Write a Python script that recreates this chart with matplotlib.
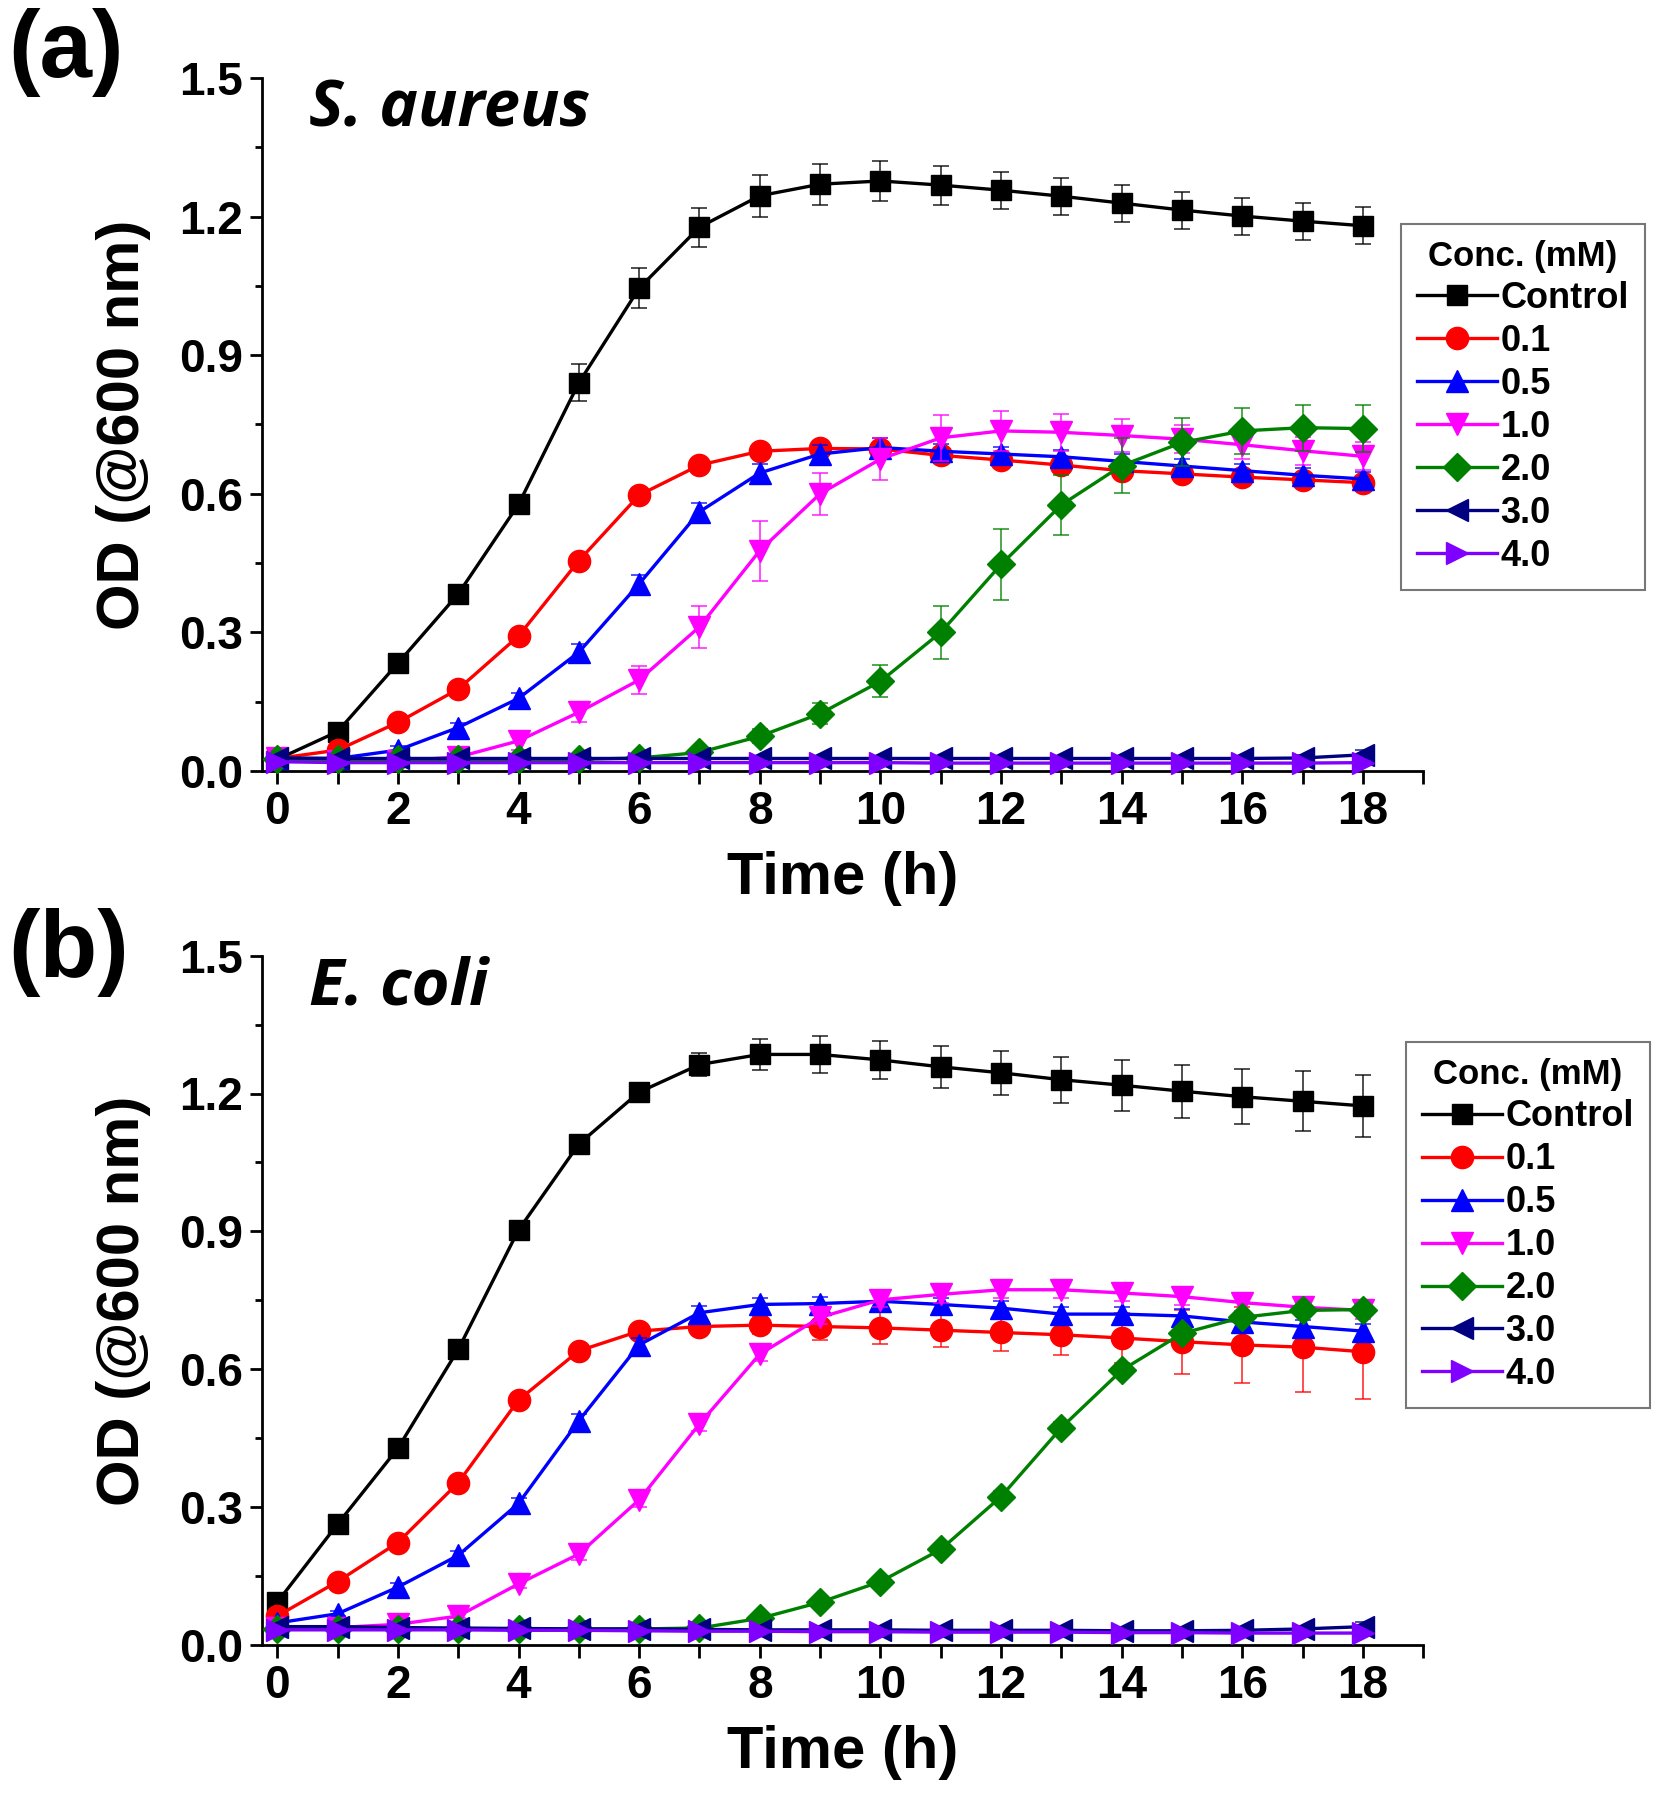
import matplotlib
matplotlib.use('Agg')
import matplotlib.pyplot as plt
from matplotlib.ticker import MultipleLocator

plt.rcParams['font.family'] = ['Liberation Sans', 'DejaVu Sans']
plt.rcParams['font.weight'] = 'bold'

hours = list(range(19))
labels = ['Control', '0.1', '0.5', '1.0', '2.0', '3.0', '4.0']

# --- (a) S. aureus ---
ctrl_a = [0.025, 0.085, 0.233, 0.383, 0.577, 0.840, 1.045, 1.177, 1.245, 1.270,
          1.277, 1.268, 1.257, 1.244, 1.229, 1.214, 1.201, 1.190, 1.180]
c01_a = [0.027, 0.045, 0.105, 0.177, 0.292, 0.455, 0.597, 0.662, 0.692, 0.698,
         0.697, 0.683, 0.673, 0.662, 0.650, 0.643, 0.636, 0.630, 0.624]
c05_a = [0.027, 0.027, 0.045, 0.094, 0.157, 0.257, 0.405, 0.561, 0.645, 0.686,
         0.700, 0.692, 0.686, 0.680, 0.670, 0.660, 0.650, 0.640, 0.632]
c10_a = [0.027, 0.022, 0.022, 0.030, 0.065, 0.127, 0.197, 0.312, 0.477, 0.600,
         0.675, 0.721, 0.736, 0.733, 0.726, 0.718, 0.706, 0.693, 0.681]
c20_a = [0.025, 0.025, 0.025, 0.025, 0.025, 0.025, 0.028, 0.040, 0.075, 0.124,
         0.194, 0.300, 0.447, 0.576, 0.661, 0.711, 0.736, 0.743, 0.741]
c30_a = [0.028, 0.027, 0.027, 0.027, 0.027, 0.027, 0.027, 0.027, 0.027, 0.027,
         0.027, 0.027, 0.027, 0.027, 0.027, 0.027, 0.027, 0.028, 0.035]
c40_a = [0.020, 0.018, 0.018, 0.018, 0.018, 0.018, 0.018, 0.018, 0.018, 0.018,
         0.018, 0.017, 0.017, 0.017, 0.017, 0.017, 0.017, 0.017, 0.018]

err_ctrl_a = [0.005, 0.008, 0.010, 0.010, 0.012, 0.040, 0.043, 0.042, 0.045, 0.044,
              0.044, 0.042, 0.040, 0.040, 0.040, 0.040, 0.040, 0.040, 0.040]
err_c01_a = [0.005, 0.005, 0.006, 0.008, 0.008, 0.010, 0.010, 0.010, 0.010, 0.010,
             0.010, 0.010, 0.010, 0.010, 0.010, 0.010, 0.010, 0.010, 0.010]
err_c05_a = [0.005, 0.005, 0.008, 0.010, 0.012, 0.018, 0.020, 0.020, 0.020, 0.020,
             0.020, 0.015, 0.015, 0.015, 0.015, 0.015, 0.015, 0.015, 0.015]
err_c10_a = [0.005, 0.005, 0.005, 0.008, 0.020, 0.020, 0.030, 0.045, 0.065, 0.045,
             0.045, 0.050, 0.043, 0.040, 0.035, 0.030, 0.030, 0.030, 0.030]
err_c20_a = [0.005, 0.005, 0.005, 0.005, 0.005, 0.005, 0.005, 0.010, 0.015, 0.022,
             0.035, 0.058, 0.077, 0.065, 0.060, 0.052, 0.050, 0.050, 0.050]
err_c30_a = [0.004, 0.004, 0.004, 0.004, 0.004, 0.004, 0.004, 0.004, 0.004, 0.004,
             0.004, 0.004, 0.004, 0.004, 0.004, 0.004, 0.004, 0.006, 0.010]
err_c40_a = [0.003, 0.003, 0.003, 0.003, 0.003, 0.003, 0.003, 0.003, 0.003, 0.003,
             0.003, 0.003, 0.003, 0.003, 0.003, 0.003, 0.003, 0.003, 0.003]

# --- (b) E. coli ---
ctrl_b = [0.093, 0.263, 0.428, 0.643, 0.903, 1.090, 1.203, 1.263, 1.285, 1.285,
          1.273, 1.258, 1.245, 1.230, 1.218, 1.205, 1.193, 1.183, 1.173]
c01_b = [0.063, 0.138, 0.223, 0.353, 0.533, 0.640, 0.683, 0.693, 0.696, 0.693,
         0.690, 0.685, 0.680, 0.675, 0.668, 0.660, 0.653, 0.648, 0.638]
c05_b = [0.048, 0.068, 0.126, 0.195, 0.308, 0.488, 0.653, 0.723, 0.741, 0.743,
         0.748, 0.741, 0.733, 0.720, 0.720, 0.716, 0.703, 0.693, 0.683]
c10_b = [0.038, 0.038, 0.045, 0.063, 0.133, 0.198, 0.316, 0.481, 0.633, 0.713,
         0.751, 0.763, 0.773, 0.773, 0.766, 0.758, 0.745, 0.735, 0.728]
c20_b = [0.035, 0.035, 0.035, 0.035, 0.035, 0.035, 0.035, 0.037, 0.058, 0.093,
         0.138, 0.208, 0.323, 0.473, 0.598, 0.678, 0.713, 0.728, 0.730]
c30_b = [0.040, 0.040, 0.038, 0.037, 0.036, 0.035, 0.035, 0.034, 0.033, 0.033,
         0.033, 0.032, 0.032, 0.032, 0.031, 0.031, 0.032, 0.035, 0.040]
c40_b = [0.033, 0.033, 0.033, 0.033, 0.032, 0.032, 0.031, 0.030, 0.030, 0.029,
         0.029, 0.028, 0.028, 0.028, 0.027, 0.027, 0.026, 0.026, 0.026]

err_ctrl_b = [0.005, 0.005, 0.005, 0.008, 0.008, 0.008, 0.010, 0.025, 0.033, 0.040,
              0.042, 0.045, 0.048, 0.050, 0.055, 0.058, 0.060, 0.065, 0.068]
err_c01_b = [0.005, 0.005, 0.005, 0.008, 0.008, 0.008, 0.010, 0.015, 0.020, 0.030,
             0.035, 0.037, 0.040, 0.045, 0.055, 0.070, 0.083, 0.098, 0.103]
err_c05_b = [0.005, 0.005, 0.008, 0.010, 0.012, 0.015, 0.015, 0.015, 0.015, 0.015,
             0.015, 0.015, 0.015, 0.015, 0.015, 0.015, 0.015, 0.015, 0.015]
err_c10_b = [0.005, 0.005, 0.005, 0.005, 0.010, 0.012, 0.015, 0.015, 0.015, 0.015,
             0.015, 0.018, 0.018, 0.018, 0.018, 0.018, 0.018, 0.018, 0.018]
err_c20_b = [0.004, 0.004, 0.004, 0.004, 0.004, 0.004, 0.004, 0.004, 0.005, 0.006,
             0.008, 0.010, 0.012, 0.012, 0.012, 0.012, 0.012, 0.012, 0.012]
err_c30_b = [0.004, 0.004, 0.004, 0.004, 0.004, 0.004, 0.004, 0.004, 0.004, 0.004,
             0.004, 0.004, 0.004, 0.004, 0.004, 0.004, 0.004, 0.006, 0.010]
err_c40_b = [0.003, 0.003, 0.003, 0.003, 0.003, 0.003, 0.003, 0.003, 0.003, 0.003,
             0.003, 0.003, 0.003, 0.003, 0.003, 0.003, 0.003, 0.003, 0.003]

colors = ['#000000', '#ff0000', '#0000ff', '#ff00ff', '#008000', '#000080', '#8000ff']
markers = ['s', 'o', '^', 'v', 'D', '<', '>']
msizes = [15, 16, 16, 16, 14, 16, 16]

panels = [
    ([0.158, 0.5717, 0.700, 0.385], '(a)', 0.971, 'S. aureus',
     [ctrl_a, c01_a, c05_a, c10_a, c20_a, c30_a, c40_a],
     [err_ctrl_a, err_c01_a, err_c05_a, err_c10_a, err_c20_a, err_c30_a, err_c40_a],
     (0.8445, 0.8756)),
    ([0.158, 0.0861, 0.700, 0.383], '(b)', 0.4706, 'E. coli',
     [ctrl_b, c01_b, c05_b, c10_b, c20_b, c30_b, c40_b],
     [err_ctrl_b, err_c01_b, err_c05_b, err_c10_b, err_c20_b, err_c30_b, err_c40_b],
     (0.8475, 0.421)),
]

fig = plt.figure(figsize=(16.59, 18), dpi=100)

for rect, tag, tag_y, species, series, errs, leg_xy in panels:
    ax = fig.add_axes(rect)
    handles = []
    for i, (y, e) in enumerate(zip(series, errs)):
        ax.errorbar(hours, y, yerr=e, fmt='none', ecolor=colors[i],
                    elinewidth=1.3, capsize=6, capthick=1.3, alpha=0.75, zorder=2 + i)
        h, = ax.plot(hours, y, color=colors[i], lw=2.4, marker=markers[i],
                     ms=msizes[i], mec=colors[i], mfc=colors[i],
                     label=labels[i], zorder=3 + i, clip_on=False)
        handles.append(h)

    ax.set_xlim(-0.25, 19)
    ax.set_ylim(0, 1.5)
    ax.xaxis.set_major_locator(MultipleLocator(2))
    ax.xaxis.set_minor_locator(MultipleLocator(1))
    ax.yaxis.set_major_locator(MultipleLocator(0.3))
    ax.yaxis.set_minor_locator(MultipleLocator(0.15))
    ax.yaxis.set_major_formatter(plt.FuncFormatter(lambda v, p: f'{v:.1f}'))
    ax.spines['top'].set_visible(False)
    ax.spines['right'].set_visible(False)
    for s in ('left', 'bottom'):
        ax.spines[s].set_linewidth(2)
    ax.tick_params(which='major', direction='out', length=9, width=2,
                   labelsize=33, pad=5)
    ax.tick_params(axis='x', which='minor', direction='out', length=9, width=2)
    ax.tick_params(axis='y', which='minor', direction='out', length=5, width=2)
    for lbl in ax.get_xticklabels() + ax.get_yticklabels():
        lbl.set_fontweight('bold')

    ax.set_xlabel('Time (h)', fontsize=43, fontweight='bold', labelpad=12)
    ax.set_ylabel('OD (@600 nm)', fontsize=43, fontweight='bold', labelpad=20)

    ax.text(0.04, 1.0, species, transform=ax.transAxes, fontsize=47,
            fontweight='bold', style='italic', family='Open Sans', va='top')
    fig.text(0.005, tag_y, tag, fontsize=68, fontweight='bold',
             va='center', ha='left')

    leg = fig.legend(handles=handles, loc='upper left', bbox_to_anchor=leg_xy,
                     title='Conc. (mM)', fontsize=26, title_fontsize=25,
                     frameon=True, fancybox=False, edgecolor='#555555',
                     handlelength=2.2, handletextpad=0.1, labelspacing=0.22,
                     borderpad=0.45, borderaxespad=0)
    leg.get_frame().set_linewidth(1.5)
    leg.get_title().set_fontweight('bold')
    for t in leg.get_texts():
        t.set_fontweight('bold')

fig.savefig('out.png', dpi=100)
